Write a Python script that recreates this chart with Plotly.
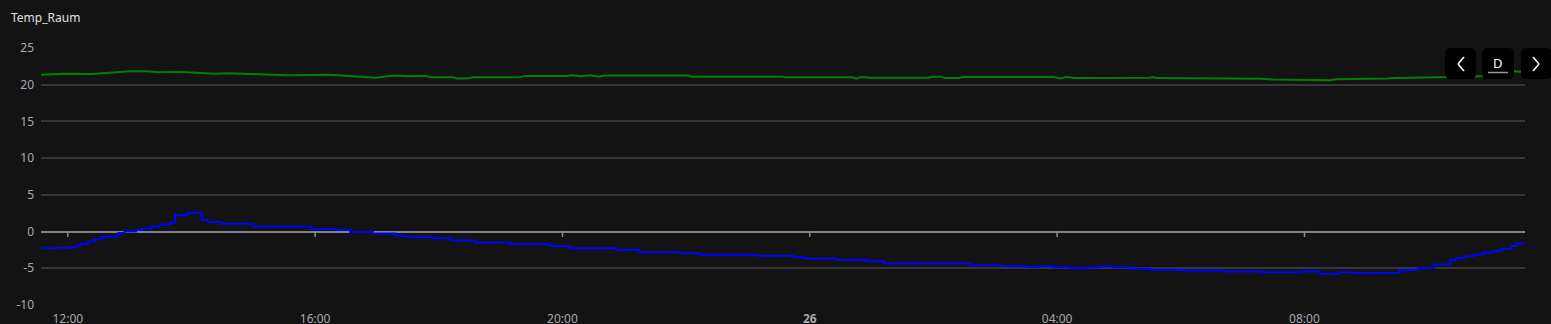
import plotly.graph_objects as go

DAY1 = "2024-05-25 "
DAY2 = "2024-05-26 "

green_times = [
    "11:34", "11:55", "12:24", "12:44", "13:00", "13:17", "13:29", "13:48", "14:05", "14:21",
    "14:37", "15:03", "15:32", "16:14", "16:34", "16:59", "17:16", "17:32", "17:48", "17:52",
    "18:14", "18:18", "18:27", "18:33", "19:18", "19:24", "20:03", "20:09", "20:18", "20:27",
    "20:35", "20:41", "22:02", "22:06", "23:33", "23:36",
    "+00:41", "+00:45", "+00:50", "+00:58", "+01:55", "+02:00", "+02:07", "+02:12", "+02:24",
    "+02:28", "+03:57", "+04:03", "+04:09", "+04:17", "+05:30", "+05:33", "+05:37", "+07:09",
    "+07:18", "+07:30", "+08:18", "+08:25", "+08:31", "+09:00", "+09:03", "+09:21", "+09:27",
    "+10:03", "+10:09", "+10:36", "+10:54", "+11:12", "+11:23", "+11:34",
]
green_vals = [
    21.35, 21.5, 21.45, 21.65, 21.85, 21.85, 21.7, 21.75, 21.65, 21.5,
    21.55, 21.4, 21.3, 21.35, 21.2, 20.95, 21.25, 21.15, 21.2, 21.0,
    21.0, 20.85, 20.85, 21.0, 21.0, 21.2, 21.2, 21.3, 21.15, 21.3,
    21.1, 21.25, 21.25, 21.1, 21.1, 21.0,
    21.0, 20.85, 21.05, 20.95, 20.95, 21.1, 21.1, 20.9, 20.9,
    21.05, 21.05, 20.85, 21.05, 20.9, 20.95, 21.05, 20.9, 20.9,
    20.8, 20.7, 20.7, 20.6, 20.75, 20.75, 20.85, 20.85, 20.9,
    20.9, 21.0, 21.1, 21.15, 21.3, 21.85, 21.7,
]

blue_times = [
    "11:34", "11:49", "12:04", "12:09", "12:13", "12:20", "12:26", "12:33", "12:49", "12:55",
    "13:06", "13:12", "13:21", "13:29", "13:39", "13:44", "13:56", "14:10", "14:16", "14:29",
    "15:00", "15:56", "16:21", "16:34", "16:56", "17:18", "17:25", "17:35", "17:54", "18:12",
    "18:36", "19:09", "19:48", "20:07", "20:53", "21:15", "21:54", "22:13", "23:08", "23:44",
    "23:54", "+00:26", "+00:55", "+01:12", "+01:42", "+01:45", "+02:36", "+03:07", "+03:30",
    "+03:42", "+03:56", "+04:12", "+04:30", "+04:42", "+04:54", "+05:12", "+05:30", "+06:00",
    "+06:42", "+07:18", "+07:56", "+08:15", "+08:34", "+08:47", "+09:32", "+09:42", "+09:50",
    "+10:06", "+10:21", "+10:27", "+10:36", "+10:44", "+10:54", "+11:03", "+11:11", "+11:20",
    "+11:26", "+11:34",
]
blue_vals = [
    -2.27, -2.2, -2.1, -1.9, -1.65, -1.35, -1.05, -0.7, -0.2, 0.0,
    0.2, 0.4, 0.7, 0.95, 1.23, 2.27, 2.55, 1.6, 1.3, 1.05,
    0.7, 0.35, 0.2, -0.05, -0.27, -0.55, -0.68, -0.77, -0.9, -1.23,
    -1.5, -1.73, -1.95, -2.27, -2.5, -2.82, -2.95, -3.14, -3.3, -3.5,
    -3.68, -3.86, -4.05, -4.36, -4.25, -4.36, -4.6, -4.73, -4.82,
    -4.73, -4.86, -4.95, -4.86, -4.77, -4.86, -5.05, -5.2, -5.3,
    -5.45, -5.55, -5.45, -5.73, -5.55, -5.64, -5.3, -5.2, -4.95,
    -4.5, -3.9, -3.6, -3.36, -3.14, -2.86, -2.64, -2.36, -1.95,
    -1.64, -1.64,
]

tick_times = ["12:00", "16:00", "20:00", "+00:00", "+04:00", "+08:00"]
tick_labels = ["12:00", "16:00", "20:00", "<b>26</b>", "04:00", "08:00"]
y_ticks = [-10, -5, 0, 5, 10, 15, 20, 25]
x_start, x_end = "11:34", "+11:34"


def ts(t):
    return DAY2 + t[1:] if t.startswith("+") else DAY1 + t


BG = "#131313"
GRID = "#35353a"
TXT = "#a9a9b0"
FONT = "Noto Sans"

fig = go.Figure()
fig.add_trace(go.Scatter(x=[ts(t) for t in green_times], y=green_vals, mode="lines",
                         line=dict(color="#008000", width=2), hoverinfo="skip"))
fig.add_trace(go.Scatter(x=[ts(t) for t in blue_times], y=blue_vals, mode="lines",
                         line=dict(color="#0000ff", width=2, shape="hv"), hoverinfo="skip"))

W, H = 1551, 324
ML, MR, MT, MB = 41, 26, 48, 19
PW, PH = W - ML - MR, H - MT - MB

# tick marks on zero axis
shapes = []
for t in tick_times:
    shapes.append(dict(type="line", xref="x", yref="y", x0=ts(t), x1=ts(t), y0=0, y1=-0.75,
                       line=dict(color="#8a8a92", width=1.5), layer="above"))


def px2paper(x, y):
    return (x - ML) / PW, (H - MB - y) / PH


def rrect(x0, y0, x1, y1, r=6):
    pts = []
    path = (f"M {x0 + r},{y0} L {x1 - r},{y0} Q {x1},{y0} {x1},{y0 + r} "
            f"L {x1},{y1 - r} Q {x1},{y1} {x1 - r},{y1} L {x0 + r},{y1} "
            f"Q {x0},{y1} {x0},{y1 - r} L {x0},{y0 + r} Q {x0},{y0} {x0 + r},{y0} Z")
    # convert pixel path to paper coords
    out = []
    for tok in path.split(" "):
        if "," in tok:
            a, b = tok.split(",")
            px_, py_ = px2paper(float(a), float(b))
            out.append(f"{px_:.5f},{py_:.5f}")
        else:
            out.append(tok)
    return " ".join(out)


for (bx0, bx1) in [(1445, 1476), (1482, 1514), (1521, 1552)]:
    shapes.append(dict(type="path", xref="paper", yref="paper", path=rrect(bx0, 48, bx1, 79),
                       fillcolor="#000000", line=dict(width=0), layer="above"))


def seg(xa, ya, xb, yb, color="#ffffff", w=1.6):
    a = px2paper(xa, ya)
    b = px2paper(xb, yb)
    return dict(type="line", xref="paper", yref="paper", x0=a[0], y0=a[1], x1=b[0], y1=b[1],
                line=dict(color=color, width=w), layer="above")


# chevrons
shapes += [seg(1464, 57, 1458, 64), seg(1458, 64, 1464, 71)]
shapes += [seg(1533, 57, 1539, 64), seg(1539, 64, 1533, 71)]
# underline under D
shapes.append(seg(1488, 72.5, 1508, 72.5, color="#9a9a9a", w=1.5))

annotations = [
    dict(text="Temp_Raum", xref="paper", yref="paper", x=(9 - ML) / PW, y=(H - MB - 18) / PH,
         xanchor="left", yanchor="middle", showarrow=False,
         font=dict(family=FONT, size=12, color="#e0e0e0")),
    dict(text="D", xref="paper", yref="paper", x=(1498 - ML) / PW, y=(H - MB - 63) / PH,
         xanchor="center", yanchor="middle", showarrow=False,
         font=dict(family=FONT, size=13, color="#ffffff")),
]

fig.update_layout(
    width=W, height=H,
    margin=dict(l=ML, r=MR, t=MT, b=MB, autoexpand=False),
    paper_bgcolor=BG, plot_bgcolor=BG,
    showlegend=False,
    font=dict(family=FONT, size=12, color=TXT),
    shapes=shapes,
    annotations=annotations,
    xaxis=dict(type="date", range=[ts(x_start), ts(x_end)],
               tickvals=[ts(t) for t in tick_times], ticktext=tick_labels,
               showgrid=False, zeroline=False, showline=False,
               ticks="outside", ticklen=3, tickcolor=BG,
               tickfont=dict(family=FONT, size=12, color=TXT), automargin=False),
    yaxis=dict(range=[-10, 25], tickvals=y_ticks, ticktext=[str(v) for v in y_ticks],
               showgrid=True, gridcolor=GRID, gridwidth=1.5,
               zeroline=True, zerolinecolor="#808088", zerolinewidth=2,
               showline=False, ticks="", ticklabelstandoff=6,
               tickfont=dict(family=FONT, size=12, color=TXT), automargin=False),
)

fig.write_html("out.html")
